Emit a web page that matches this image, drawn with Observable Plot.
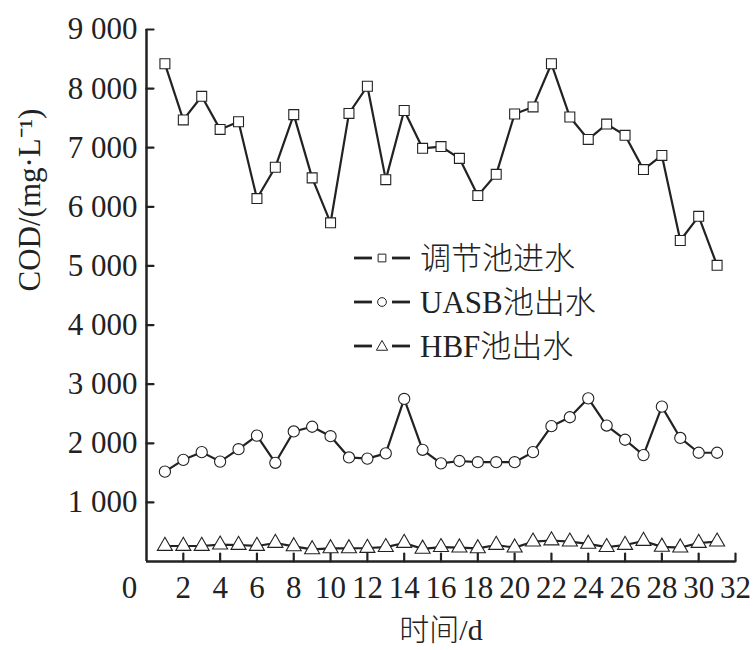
<!DOCTYPE html>
<html><head><meta charset="utf-8">
<script src="https://cdn.jsdelivr.net/npm/d3@7"></script>
<script src="https://cdn.jsdelivr.net/npm/@observablehq/plot@0.6"></script>
<style>
body{margin:0;background:#fff;}
#wrap{position:relative;width:756px;height:650px;}
.leg{position:absolute;left:352px;height:40px;display:flex;align-items:center;font-family:"Liberation Serif","Noto Sans CJK SC",serif;font-weight:300;font-size:31px;color:#222;line-height:1;white-space:nowrap;}
.leg svg{margin-right:8px;}
</style></head><body><div id="wrap"></div>
<script>
const days = [1,2,3,4,5,6,7,8,9,10,11,12,13,14,15,16,17,18,19,20,21,22,23,24,25,26,27,28,29,30,31];
const inflow = [8420,7470,7870,7310,7440,6140,6670,7560,6490,5730,7580,8040,6460,7630,6990,7020,6820,6190,6550,7570,7690,8420,7520,7140,7400,7210,6630,6870,5430,5840,5010];
const uasb = [1520,1720,1850,1690,1900,2130,1670,2200,2280,2120,1760,1740,1830,2750,1890,1660,1700,1680,1680,1680,1850,2290,2440,2760,2300,2060,1800,2620,2090,1840,1840];
const hbf = [262,262,262,284,279,262,313,256,205,222,222,228,242,313,214,242,234,222,279,234,335,355,335,298,242,279,346,248,234,313,335];
const seriesNames = ["调节池进水","UASB池出水","HBF池出水"];
const seriesSymbols = ["square","circle","triangle"];
const xTicks = [2,4,6,8,10,12,14,16,18,20,22,24,26,28,30,32];
const yTicks = [1000,2000,3000,4000,5000,6000,7000,8000,9000];
const xTitle = "时间/d";
const yTitle = "COD/(mg·L⁻¹)";

const seriesValues = [inflow, uasb, hbf];
const rows = [];
seriesValues.forEach((vals, s) => vals.forEach((v, i) => rows.push({day: days[i], cod: v, series: seriesNames[s]})));

const ink = "#222";
const tickShapeRight = {draw(ctx, l){ctx.moveTo(0,0); ctx.lineTo(l,0);}};
const tickShapeUp = {draw(ctx, l){ctx.moveTo(0,0); ctx.lineTo(0,-l);}};
const fmt = d => d3.format(",")(d).replace(/,/g, " ");

const marks = [];
seriesNames.forEach((name, s) => {
  const data = rows.filter(r => r.series === name);
  marks.push(Plot.line(data, {x: "day", y: "cod", stroke: ink, strokeWidth: 2.2}));
});
seriesNames.forEach((name, s) => {
  const data = rows.filter(r => r.series === name);
  marks.push(Plot.dot(data, {x: "day", y: "cod", symbol: () => seriesSymbols[s], r: 5.6, fill: "white", stroke: ink, strokeWidth: 1.1}));
});

const chart = Plot.plot({
  width: 756, height: 650,
  marginLeft: 146, marginRight: 21, marginTop: 29, marginBottom: 89,
  style: {fontFamily: "'Liberation Serif', 'Noto Sans CJK SC', serif", fontSize: "30px", color: ink, background: "white"},
  x: {domain: [0, 32]},
  y: {domain: [0, 9000]},
  symbol: {type: "identity"},
  marks: [
    Plot.axisY(yTicks, {tickSize: 0, tickPadding: 9, tickFormat: fmt, label: null, fontSize: 31}),
    Plot.axisX(xTicks, {tickSize: 0, tickPadding: 14, tickFormat: d => String(d), label: null, fontSize: 31}),
    Plot.axisX([0], {tickSize: 0, tickPadding: 14, tickFormat: d => String(d), label: null, fontSize: 31, dx: -17}),
    Plot.vector(yTicks, {x: 0, y: d => d, length: 7, shape: tickShapeRight, anchor: "start", stroke: ink, strokeWidth: 2.2}),
    Plot.vector(xTicks, {x: d => d, y: 0, length: 8, shape: tickShapeUp, anchor: "start", stroke: ink, strokeWidth: 2.2}),
    ...marks,
    Plot.ruleX([0], {y1: 0, y2: 9000, stroke: ink, strokeWidth: 2.5}),
    Plot.ruleY([0], {x1: 0, x2: 32, stroke: ink, strokeWidth: 2.5}),
    Plot.text([xTitle], {text: d => d, frameAnchor: "bottom", dy: 69, fontSize: 30, fontWeight: 300, fill: ink, lineAnchor: "middle"}),
    Plot.text([yTitle], {text: d => d, frameAnchor: "left", dx: -116, dy: -4, rotate: -90, fontSize: 31, fill: ink, lineAnchor: "middle"})
  ]
});
const wrap = document.getElementById("wrap");
wrap.appendChild(chart);

// legend
const legTops = [258, 302, 346];
seriesNames.forEach((name, s) => {
  const div = document.createElement("div");
  div.className = "leg";
  div.style.top = (legTops[s] - 20) + "px";
  const symPath = d3.symbol(s === 0 ? d3.symbolSquare : s === 1 ? d3.symbolCircle : d3.symbolTriangle, s === 2 ? 55 : 60)();
  div.innerHTML = `<svg width="60" height="20" viewBox="0 0 60 20">
    <line x1="2" y1="10" x2="20" y2="10" stroke="${ink}" stroke-width="2.8"/>
    <line x1="40" y1="10" x2="58" y2="10" stroke="${ink}" stroke-width="2.8"/>
    <path d="${symPath}" transform="translate(30,${s===2?11:10})" fill="white" stroke="${ink}" stroke-width="1"/>
  </svg><span>${name}</span>`;
  wrap.appendChild(div);
});
</script></body></html>
